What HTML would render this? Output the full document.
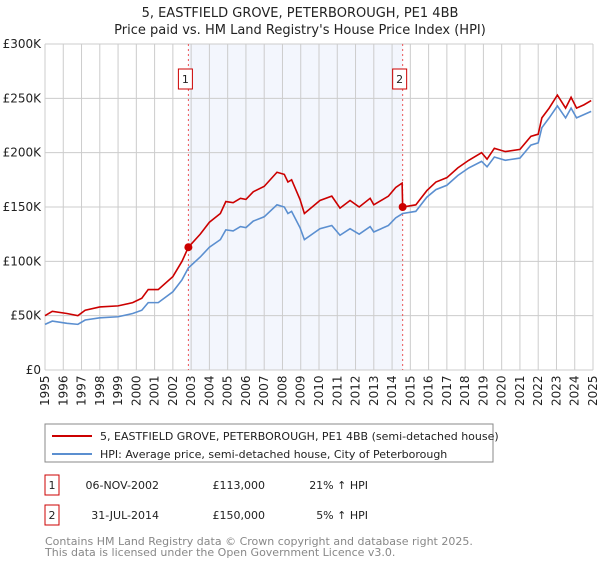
<!DOCTYPE html>
<html><head><meta charset="utf-8"><style>
body{margin:0;background:#fff;font-family:"Liberation Sans","DejaVu Sans",sans-serif;}
svg text{font-family:"DejaVu Sans","Liberation Sans",sans-serif;}
</style></head><body>
<svg id="c" width="600" height="560" xmlns="http://www.w3.org/2000/svg">
<text x="300" y="17" text-anchor="middle" font-size="13" fill="#222">5, EASTFIELD GROVE, PETERBOROUGH, PE1 4BB</text>
<text x="300" y="34" text-anchor="middle" font-size="13" fill="#222">Price paid vs. HM Land Registry's House Price Index (HPI)</text>
<g id="plot"></g>
<rect x="45" y="424" width="448" height="38" fill="#fff" stroke="#888"/>
<line x1="52" y1="436" x2="92" y2="436" stroke="#cc0000" stroke-width="2"/>
<text x="100" y="440" font-size="11" fill="#222">5, EASTFIELD GROVE, PETERBOROUGH, PE1 4BB (semi-detached house)</text>
<line x1="52" y1="454" x2="92" y2="454" stroke="#5b8fd0" stroke-width="2"/>
<text x="100" y="458" font-size="11" fill="#222">HPI: Average price, semi-detached house, City of Peterborough</text>
<rect x="45" y="475" width="14" height="20" fill="#fff" stroke="#cc0000"/>
<text x="52" y="489" text-anchor="middle" font-size="11" fill="#222">1</text>
<text x="159" y="489" text-anchor="end" font-size="11" fill="#222">06-NOV-2002</text>
<text x="265" y="489" text-anchor="end" font-size="11" fill="#222">£113,000</text>
<text x="368" y="489" text-anchor="end" font-size="11" fill="#222">21% ↑ HPI</text>
<rect x="45" y="505" width="14" height="20" fill="#fff" stroke="#cc0000"/>
<text x="52" y="519" text-anchor="middle" font-size="11" fill="#222">2</text>
<text x="159" y="519" text-anchor="end" font-size="11" fill="#222">31-JUL-2014</text>
<text x="265" y="519" text-anchor="end" font-size="11" fill="#222">£150,000</text>
<text x="368" y="519" text-anchor="end" font-size="11" fill="#222">5% ↑ HPI</text>
<text x="45" y="545" font-size="11" fill="#888">Contains HM Land Registry data © Crown copyright and database right 2025.</text>
<text x="45" y="556" font-size="11" fill="#888">This data is licensed under the Open Government Licence v3.0.</text>
</svg>
<script>
const hpiYears=[1995,1995.4,1996.2,1996.8,1997.2,1998,1999,1999.8,2000.3,2000.65,2001.2,2002,2002.5,2002.85,2003.5,2004,2004.6,2004.9,2005.3,2005.7,2006,2006.4,2007,2007.7,2008.1,2008.3,2008.5,2008.96,2009.2,2010.05,2010.7,2011.15,2011.7,2012.2,2012.8,2013,2013.8,2014.2,2014.58,2015.3,2015.9,2016.4,2017,2017.6,2018.2,2018.9,2019.2,2019.6,2020.2,2021,2021.6,2022,2022.2,2022.6,2023.05,2023.5,2023.8,2024.1,2024.5,2024.9];
const hpiValues=[42,45,43,42,46,48,49,52,55,62,62,72,83,94,104,113,120,129,128,132,131,137,141,152,150,144,146,131,120,130,133,124,130,125,132,127,133,140,144,146,159,166,170,179,186,192,187,196,193,195,207,209,223,232,243,232,241,232,235,238];
const priceYears=[1995,1995.4,1996.2,1996.8,1997.2,1998,1999,1999.8,2000.3,2000.65,2001.2,2002,2002.5,2002.85,2003.5,2004,2004.6,2004.9,2005.3,2005.7,2006,2006.4,2007,2007.7,2008.1,2008.3,2008.5,2008.96,2009.2,2010.05,2010.7,2011.15,2011.7,2012.2,2012.8,2013,2013.8,2014.2,2014.55,2014.58,2015.3,2015.9,2016.4,2017,2017.6,2018.2,2018.9,2019.2,2019.6,2020.2,2021,2021.6,2022,2022.2,2022.6,2023.05,2023.5,2023.8,2024.1,2024.5,2024.9];
const priceValues=[50,54,52,50,55,58,59,62,66,74,74,86,100,113,125,136,144,155,154,158,157,164,169,182,180,173,175,157,144,156,160,149,156,150,158,152,160,168,172,150,152,165,173,177,186,193,200,194,204,201,203,215,217,232,241,253,241,251,241,244,248];
const saleYears=[2002.85,2014.58];
const saleValues=[113,150];
const saleLabels=["1","2"];
const yTicks=[0,50,100,150,200,250,300];
const yTickLabels=["£0","£50K","£100K","£150K","£200K","£250K","£300K"];
const xYears=[1995,1996,1997,1998,1999,2000,2001,2002,2003,2004,2005,2006,2007,2008,2009,2010,2011,2012,2013,2014,2015,2016,2017,2018,2019,2020,2021,2022,2023,2024,2025];

const X0=45,X1=593,Y0=370,Y1=44;
const xs=y=>X0+(y-1995)/30*(X1-X0);
const ys=v=>Y0-v/300*(Y0-Y1);
const NS="http://www.w3.org/2000/svg";
const g=document.getElementById('plot');
function mk(tag,attrs){const e=document.createElementNS(NS,tag);for(const k in attrs)e.setAttribute(k,attrs[k]);g.appendChild(e);return e;}

let sh=mk('rect',{x:xs(saleYears[0]),y:Y1,width:xs(saleYears[1])-xs(saleYears[0]),height:Y0-Y1,fill:'#f3f6fd'});


xYears.forEach(yr=>{
  const l=mk('line',{x1:xs(yr),x2:xs(yr),y1:Y1,y2:Y0,stroke:'#cccccc'});
  
  
  const t=mk('text',{transform:`translate(${xs(yr)+4},${Y0+36}) rotate(-90)`,'font-size':'12',fill:'#222'});
  t.textContent=yr;
  
  
});
yTicks.forEach((v,i)=>{
  const l=mk('line',{x1:X0,x2:X1,y1:ys(v),y2:ys(v),stroke:'#cccccc'});
  
  
  const t=mk('text',{x:X0-4,y:ys(v)+4,'text-anchor':'end','font-size':'12',fill:'#222'});
  t.textContent=yTickLabels[i];
  
  
});
saleYears.forEach((yr,i)=>{
  const l=mk('line',{x1:xs(yr),x2:xs(yr),y1:Y1,y2:Y0,stroke:'#ee5555','stroke-dasharray':'2,3'});
  
  
  const r=mk('rect',{x:xs(yr)-10,y:69,width:14,height:20,fill:'#fff',stroke:'#cc0000'});
  
  
  const t=mk('text',{x:xs(yr)-3,y:83,'text-anchor':'middle','font-size':'11',fill:'#222'});
  t.textContent=saleLabels[i];
  
  
});
const hp=mk('polyline',{points:hpiYears.map((y,i)=>xs(y)+','+ys(hpiValues[i])).join(' '),fill:'none',stroke:'#5b8fd0','stroke-width':1.6});


const pp=mk('polyline',{points:priceYears.map((y,i)=>xs(y)+','+ys(priceValues[i])).join(' '),fill:'none',stroke:'#cc0000','stroke-width':1.6});


saleYears.forEach((yr,i)=>{
  const c=mk('circle',{cx:xs(yr),cy:ys(saleValues[i]),r:4,fill:'#cc0000'});
  
  
});
</script>
</body></html>
